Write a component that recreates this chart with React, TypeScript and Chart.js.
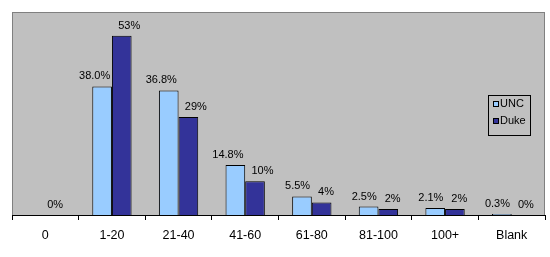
import React, { useEffect, useRef } from "react";
import { Chart, registerables } from "chart.js";

Chart.register(...registerables);

const categories = ["0", "1-20", "21-40", "41-60", "61-80", "81-100", "100+", "Blank"];
const uncValues: (number | null)[] = [null, 38.0, 36.8, 14.8, 5.5, 2.5, 2.1, 0.3];
const dukeValues: (number | null)[] = [0, 53, 29, 10, 3.7, 1.8, 1.8, 0];
const uncDecimals = 1;
const dukeDecimals = 0;
const seriesNames = ["UNC", "Duke"];
const seriesColors = ["#99CCFF", "#333399"];

const FONT = "'Liberation Sans', Arial, sans-serif";

const bgPlugin = {
  id: "plotBg",
  beforeDraw(chart: any) {
    const { ctx, chartArea } = chart;
    ctx.save();
    ctx.fillStyle = "#C0C0C0";
    ctx.fillRect(chartArea.left, chartArea.top, chartArea.right - chartArea.left, chartArea.bottom - chartArea.top);
    ctx.strokeStyle = "#808080";
    ctx.lineWidth = 1;
    ctx.strokeRect(chartArea.left + 0.5, chartArea.top + 0.5, chartArea.right - chartArea.left - 1, chartArea.bottom - chartArea.top);
    ctx.restore();
  },
};

const labelPlugin = {
  id: "barLabels",
  afterDatasetsDraw(chart: any) {
    const { ctx } = chart;
    ctx.save();
    ctx.font = `11px ${FONT}`;
    ctx.fillStyle = "#000";
    ctx.textAlign = "center";
    ctx.textBaseline = "alphabetic";
    const m0 = chart.getDatasetMeta(0);
    const m1 = chart.getDatasetMeta(1);
    const decs = [uncDecimals, dukeDecimals];
    for (let i = 0; i < categories.length; i++) {
      const items: any[] = [];
      [m0, m1].forEach((meta, di) => {
        const v = chart.data.datasets[di].data[i];
        if (v === null || v === undefined) return;
        const el = meta.data[i];
        const text = `${(v as number).toFixed(decs[di])}%`;
        const w = ctx.measureText(text).width;
        items.push({ text, x: el.x, y: el.y - 7, w, di });
      });
      if (items.length === 2) {
        const a = items[0], b = items[1];
        const gap = 8;
        const overlap = a.x + a.w / 2 + gap - (b.x - b.w / 2);
        if (overlap > 0) {
          a.x -= overlap / 2;
          b.x += overlap / 2;
        }
      }
      items.forEach((it) => ctx.fillText(it.text, it.x, it.y));
    }
    ctx.restore();
  },
};

const legendPlugin = {
  id: "boxLegend",
  afterDraw(chart: any) {
    const { ctx, chartArea } = chart;
    const bx = chartArea.right - 57;
    const by = chartArea.top + 83;
    const bw = 42;
    const bh = 40;
    ctx.save();
    ctx.fillStyle = "#C0C0C0";
    ctx.fillRect(bx, by, bw, bh);
    ctx.strokeStyle = "#000";
    ctx.lineWidth = 1;
    ctx.strokeRect(bx + 0.5, by + 0.5, bw, bh);
    ctx.font = `11px ${FONT}`;
    ctx.textBaseline = "middle";
    ctx.textAlign = "left";
    seriesNames.forEach((name, i) => {
      const cy = by + 9 + i * 17;
      ctx.fillStyle = seriesColors[i];
      ctx.fillRect(bx + 5.5, cy - 2.5, 5, 5);
      ctx.strokeStyle = "#000";
      ctx.strokeRect(bx + 5.5, cy - 2.5, 5, 5);
      ctx.fillStyle = "#000";
      ctx.fillText(name, bx + 12, cy);
    });
    ctx.restore();
  },
};

export default function App() {
  const ref = useRef<HTMLCanvasElement | null>(null);
  useEffect(() => {
    if (!ref.current) return;
    const chart = new Chart(ref.current, {
      type: "bar",
      data: {
        labels: categories,
        datasets: [
          {
            label: seriesNames[0],
            data: uncValues,
            backgroundColor: seriesColors[0],
            borderColor: "#000",
            borderWidth: 1,
          },
          {
            label: seriesNames[1],
            data: dukeValues,
            backgroundColor: seriesColors[1],
            borderColor: "#000",
            borderWidth: 1,
          },
        ],
      },
      options: {
        responsive: false,
        animation: false,
        devicePixelRatio: 1,
        layout: { padding: { left: 12, right: 5, top: 12, bottom: 6 } },
        datasets: { bar: { categoryPercentage: 0.59, barPercentage: 1.0 } },
        plugins: { legend: { display: false }, tooltip: { enabled: false } },
        scales: {
          x: {
            type: "category",
            offset: true,
            grid: {
              display: true,
              drawOnChartArea: false,
              drawTicks: true,
              tickLength: 5,
              color: "#000",
              offset: true,
            },
            border: { display: true, color: "#000", width: 1 },
            ticks: { color: "#000", font: { family: FONT, size: 12.5 }, padding: 8, maxRotation: 0 },
          },
          y: { display: false, min: 0, max: 60 },
        },
      },
      plugins: [bgPlugin, labelPlugin, legendPlugin],
    });
    return () => chart.destroy();
  }, []);
  return (
    <div style={{ position: "fixed", left: 0, top: 0, width: 550, height: 257, background: "#fff" }}>
      <canvas ref={ref} width={550} height={257} />
    </div>
  );
}
